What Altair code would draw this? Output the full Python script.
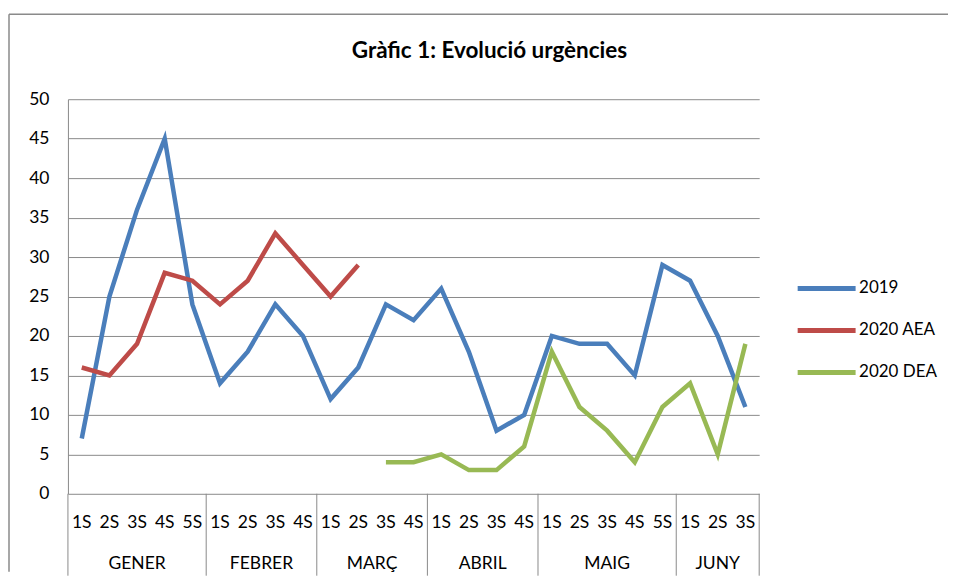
import altair as alt
import pandas as pd

TITLE = "Gràfic 1: Evolució urgències"
months = ["GENER", "FEBRER", "MARÇ", "ABRIL", "MAIG", "JUNY"]
weeks_per_month = [5, 4, 4, 4, 5, 3]
week_labels = ["1S", "2S", "3S", "4S", "5S", "1S", "2S", "3S", "4S",
               "1S", "2S", "3S", "4S", "1S", "2S", "3S", "4S",
               "1S", "2S", "3S", "4S", "5S", "1S", "2S", "3S"]
series_names = ["2019", "2020 AEA", "2020 DEA"]
v2019 = [7, 25, 36, 45, 24, 14, 18, 24, 20, 12, 16, 24, 22, 26, 18, 8, 10,
         20, 19, 19, 15, 29, 27, 20, 11]
v2020_aea = [16, 15, 19, 28, 27, 24, 27, 33, 29, 25, 29, None, None, None,
             None, None, None, None, None, None, None, None, None, None, None]
v2020_dea = [None, None, None, None, None, None, None, None, None, None, None,
             4, 4, 5, 3, 3, 6, 18, 11, 8, 4, 11, 14, 5, 19]
colors = ["#4A7EBB", "#BE4B48", "#98B954"]

W, H = 692, 395
FONT = "Lato"
GRID = "#8A8A8A"
FS = 17.5

n = len(week_labels)
rows = []
for name, vals in zip(series_names, [v2019, v2020_aea, v2020_dea]):
    for i, v in enumerate(vals):
        if v is not None:
            rows.append({"idx": i, "value": v, "serie": name})
df = pd.DataFrame(rows)

weeks_df = pd.DataFrame({"idx": list(range(n)), "label": week_labels})
bounds = [-0.5]
centers = []
start = 0
for c in weeks_per_month:
    centers.append(start + (c - 1) / 2)
    start += c
    bounds.append(start - 0.5)
months_df = pd.DataFrame({"idx": centers, "label": months})
sep_df = pd.DataFrame({"idx": bounds})
one = pd.DataFrame({"k": [0]})

xscale = alt.Scale(domain=[-0.5, n - 0.5], nice=False, zero=False)

lines = alt.Chart(df).mark_line(strokeWidth=4.5).encode(
    x=alt.X("idx:Q", scale=xscale, axis=None),
    y=alt.Y("value:Q", scale=alt.Scale(domain=[0, 50], nice=False),
            axis=alt.Axis(values=list(range(0, 51, 5)), grid=True, gridColor=GRID,
                          domainColor=GRID, ticks=False, labelPadding=19,
                          labelFontSize=FS, labelFont=FONT, labelColor="#000",
                          title=None)),
    color=alt.Color("serie:N", scale=alt.Scale(domain=series_names, range=colors),
                    legend=alt.Legend(title=None, orient="none", legendX=728, legendY=158,
                                      symbolType="stroke", symbolSize=3364,
                                      symbolStrokeWidth=5, labelFontSize=17,
                                      labelFont=FONT, labelColor="#000",
                                      rowPadding=0, labelOffset=1)),
)

week_text = alt.Chart(weeks_df).mark_text(fontSize=FS, font=FONT, color="#000",
                                           baseline="middle").encode(
    x=alt.X("idx:Q", scale=xscale, axis=None), y=alt.value(H + 29), text="label:N")

month_text = alt.Chart(months_df).mark_text(fontSize=FS, font=FONT, color="#000",
                                             baseline="middle").encode(
    x=alt.X("idx:Q", scale=xscale, axis=None), y=alt.value(H + 70), text="label:N")

seps = alt.Chart(sep_df).mark_rule(color=GRID, strokeWidth=1).encode(
    x=alt.X("idx:Q", scale=xscale, axis=None), y=alt.value(H), y2=alt.value(H + 82))

frame_left = alt.Chart(one).mark_rule(color=GRID, strokeWidth=1.5).encode(
    x=alt.value(-59), y=alt.value(-85), y2=alt.value(H + 78))
frame_top = alt.Chart(one).mark_rule(color=GRID, strokeWidth=1.5).encode(
    x=alt.value(-59), x2=alt.value(W + 189), y=alt.value(-85))
spacer = alt.Chart(one).mark_rule(color="white", strokeOpacity=0, strokeWidth=1).encode(
    x=alt.value(-50), y=alt.value(-91), y2=alt.value(-88))

title = alt.Chart(one).mark_text(
    text=TITLE, fontSize=22.5, fontWeight="bold", font=FONT, color="#000",
    baseline="middle", align="center").encode(x=alt.value(422), y=alt.value(-48))

chart = alt.layer(spacer, frame_left, frame_top, title, seps, week_text, month_text, lines).properties(
    width=W, height=H, padding=0,
).configure_view(stroke=None)

chart.save("out.html", embed_options={"renderer": "svg", "actions": False})
